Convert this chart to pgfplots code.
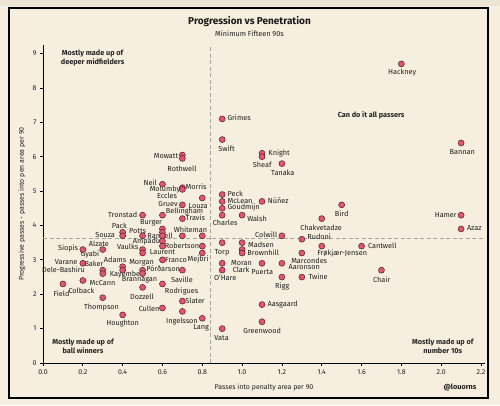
\documentclass[border=0pt]{standalone}
\usepackage{fontspec}
\setmainfont{Fira Sans}
\usepackage{pgfplots}
\pgfplotsset{compat=1.18}
\definecolor{bg}{RGB}{246,238,222}
\definecolor{dotfill}{RGB}{230,82,112}
\definecolor{dotedge}{RGB}{70,35,40}
\definecolor{lbl}{RGB}{32,32,32}
\definecolor{meanc}{RGB}{165,165,165}
\pgfplotstableread{
x y
1.8 8.7
2.1 6.4
2.1 4.3
2.1 3.9
1.5 4.6
1.4 4.2
1.3 3.6
1.4 3.4
1.6 3.4
1.7 2.7
1.3 3.2
1.2 2.9
1.3 2.5
1.2 2.5
1.1 2.9
0.9 2.9
0.9 2.7
1.2 3.7
0.9 3.5
1.0 3.5
1.0 3.3
1.0 3.2
1.1 1.7
1.1 1.2
0.9 1.0
0.8 1.3
0.7 1.5
0.7 1.8
0.6 1.6
0.6 2.3
0.7 2.7
0.6 3.0
0.8 3.2
0.8 3.4
0.7 3.7
0.8 3.7
0.9 7.1
0.9 6.5
1.1 6.1
1.1 6.0
1.2 5.8
0.7 6.05
0.7 5.95
0.6 5.2
0.7 5.1
0.7 5.05
0.8 4.8
0.7 4.6
0.6 4.3
0.7 4.2
0.9 4.9
0.9 4.7
0.9 4.5
0.9 4.3
1.1 4.7
1.0 4.3
0.5 4.3
0.6 3.9
0.6 3.8
0.6 3.7
0.6 3.55
0.6 3.4
0.4 3.8
0.4 3.7
0.5 3.7
0.5 3.3
0.5 3.2
0.3 3.3
0.2 3.3
0.2 2.9
0.3 2.7
0.3 2.6
0.4 2.8
0.4 2.7
0.5 2.7
0.5 2.6
0.5 2.2
0.2 2.4
0.1 2.3
0.3 1.9
0.4 1.4
}\players
\begin{document}
\begin{tikzpicture}[
  lab/.style={font=\fontsize{7.3}{8}\selectfont, text=lbl, inner sep=0pt, anchor=center},
  quad/.style={font=\bfseries\fontsize{7.3}{9}\selectfont, text=black!85, inner sep=0pt, align=center, anchor=center}]
\useasboundingbox (0pt,0pt) rectangle (500pt,-405pt);
\fill[bg] (0pt,0pt) rectangle (500pt,-405pt);
\fill[black!4!bg] (0pt,0pt) rectangle (500pt,-6pt);
\draw[line width=2pt, black] (8.5pt,-7.5pt) rectangle (488pt,-397.5pt);
\begin{axis}[
  at={(43pt,-363pt)}, anchor=south west,
  scale only axis, width=442pt, height=318pt,
  xmin=0, xmax=2.22, ymin=0, ymax=9.25,
  axis x line*=bottom, axis y line*=left,
  axis line style={line width=1pt, black},
  tick align=outside, major tick length=3pt,
  tick style={black, line width=0.8pt},
  xtick={0,0.2,0.4,0.6,0.8,1.0,1.2,1.4,1.6,1.8,2.0,2.2},
  ytick={0,1,2,3,4,5,6,7,8,9},
  xticklabel style={/pgf/number format/fixed, /pgf/number format/fixed zerofill, /pgf/number format/precision=1},
  /pgf/number format/assume math mode=true,
  ticklabel style={font=\fontsize{7}{8}\selectfont, text=lbl},
  clip=false,
]
\addplot[meanc, line width=0.7pt, dash pattern=on 4pt off 2.5pt] coordinates {(0.84,0) (0.84,9.25)};
\addplot[meanc, line width=0.7pt, dash pattern=on 4pt off 2.5pt] coordinates {(0,3.64) (2.22,3.64)};
\addplot[only marks, mark=*, mark size=3pt, mark options={fill=dotfill, draw=dotedge, line width=0.5pt}] table[x=x,y=y] {\players};
% player labels
\node[lab] at (axis cs:1.804,8.45) {Hackney};
\node[lab] at (axis cs:2.106,6.125) {Bannan};
\node[lab] at (axis cs:2.023,4.294) {Hamer};
\node[lab] at (axis cs:2.166,3.916) {Azaz};
\node[lab] at (axis cs:1.500,4.331) {Bird};
\node[lab] at (axis cs:1.397,3.933) {Chakvetadze};
\node[lab] at (axis cs:1.387,3.672) {Rudoni};
\node[lab] at (axis cs:1.503,3.189) {Frøkjær-Jensen};
\node[lab] at (axis cs:1.704,3.41) {Cantwell};
\node[lab] at (axis cs:1.701,2.433) {Chair};
\node[lab] at (axis cs:1.337,2.974) {Marcondes};
\node[lab] at (axis cs:1.312,2.782) {Aaronson};
\node[lab] at (axis cs:1.382,2.509) {Twine};
\node[lab] at (axis cs:1.201,2.238) {Rigg};
\node[lab] at (axis cs:1.101,2.637) {Puerta};
\node[lab] at (axis cs:0.997,2.916) {Moran};
\node[lab] at (axis cs:0.995,2.703) {Clark};
\node[lab] at (axis cs:0.915,2.491) {O'Hare};
\node[lab] at (axis cs:1.121,3.721) {Colwill};
\node[lab] at (axis cs:0.899,3.206) {Torp};
\node[lab] at (axis cs:1.095,3.430) {Madsen};
\node[lab] at (axis cs:1.106,3.218) {Brownhill};
\node[lab] at (axis cs:1.204,1.706) {Aasgaard};
\node[lab] at (axis cs:1.101,0.930) {Greenwood};
\node[lab] at (axis cs:0.897,0.718) {Vata};
\node[lab] at (axis cs:0.794,1.026) {Lang};
\node[lab] at (axis cs:0.698,1.201) {Ingelsson};
\node[lab] at (axis cs:0.764,1.802) {Slater};
\node[lab] at (axis cs:0.533,1.584) {Cullen};
\node[lab] at (axis cs:0.696,2.073) {Rodrigues};
\node[lab] at (axis cs:0.698,2.433) {Saville};
\node[lab] at (axis cs:0.603,2.733) {Pórðarson};
\node[lab] at (axis cs:0.668,2.994) {Franco};
\node[lab] at (axis cs:0.779,3.009) {Mejbri};
\node[lab] at (axis cs:0.698,3.421) {Robertson};
\node[lab] at (axis cs:0.600,3.235) {Laurent};
\node[lab] at (axis cs:0.741,3.887) {Whiteman};
\node[lab] at (axis cs:0.588,3.70) {Randell};
\node[lab] at (axis cs:0.520,3.547) {Ampadu};
\node[lab] at (axis cs:0.425,3.381) {Vaulks};
\node[lab] at (axis cs:0.475,3.852) {Potts};
\node[lab] at (axis cs:0.312,3.721) {Souza};
\node[lab] at (axis cs:0.384,3.983) {Pack};
\node[lab] at (axis cs:0.40,4.32) {Tronstad};
\node[lab] at (axis cs:0.543,4.07) {Burger};
\node[lab] at (axis cs:0.281,3.48) {Alzate};
\node[lab] at (axis cs:0.126,3.334) {Siopis};
\node[lab] at (axis cs:0.236,3.16) {Gyabi};
\node[lab] at (axis cs:0.116,2.945) {Varane};
\node[lab] at (axis cs:0.256,2.898) {Baker};
\node[lab] at (axis cs:0.362,2.994) {Adams};
\node[lab] at (axis cs:0.495,2.916) {Morgan};
\node[lab] at (axis cs:0.103,2.703) {Dele-Bashiru};
\node[lab] at (axis cs:0.412,2.567) {Kayembe};
\node[lab] at (axis cs:0.485,2.433) {Brannagan};
\node[lab] at (axis cs:0.299,2.317) {McCann};
\node[lab] at (axis cs:0.193,2.102) {Colback};
\node[lab] at (axis cs:0.093,2.006) {Field};
\node[lab] at (axis cs:0.294,1.619) {Thompson};
\node[lab] at (axis cs:0.40,1.134) {Houghton};
\node[lab] at (axis cs:0.497,1.927) {Dozzell};
\node[lab] at (axis cs:0.538,5.233) {Neil};
\node[lab] at (axis cs:0.613,5.049) {Molumby};
\node[lab] at (axis cs:0.769,5.116) {Morris};
\node[lab] at (axis cs:0.623,4.855) {Eccles};
\node[lab] at (axis cs:0.628,4.622) {Gruev};
\node[lab] at (axis cs:0.779,4.564) {Louza};
\node[lab] at (axis cs:0.711,4.398) {Bellingham};
\node[lab] at (axis cs:0.766,4.215) {Travis};
\node[lab] at (axis cs:0.618,6.017) {Mowatt};
\node[lab] at (axis cs:0.698,5.640) {Rothwell};
\node[lab] at (axis cs:0.922,6.241) {Swift};
\node[lab] at (axis cs:0.985,7.131) {Grimes};
\node[lab] at (axis cs:1.186,6.096) {Knight};
\node[lab] at (axis cs:1.101,5.756) {Sheaf};
\node[lab] at (axis cs:1.204,5.544) {Tanaka};
\node[lab] at (axis cs:0.965,4.933) {Peck};
\node[lab] at (axis cs:0.990,4.718) {McLean};
\node[lab] at (axis cs:1.008,4.526) {Goudmijn};
\node[lab] at (axis cs:0.915,4.09) {Charles};
\node[lab] at (axis cs:1.181,4.718) {Núñez};
\node[lab] at (axis cs:1.075,4.186) {Walsh};
% quadrant notes
\node[quad] at (axis cs:0.249,8.86) {Mostly made up of\\deeper midfielders};
\node[quad] at (axis cs:1.648,7.19) {Can do it all passers};
\node[quad] at (axis cs:0.201,0.50) {Mostly made up of\\ball winners};
\node[quad] at (axis cs:2.008,0.50) {Mostly made up of\\number 10s};
\end{axis}
\node[font=\bfseries\fontsize{10}{12}\selectfont, text=black!90] at (249.5pt,-21.7pt) {Progression vs Penetration};
\node[font=\fontsize{7.3}{9}\selectfont, text=lbl] at (249.5pt,-33.7pt) {Minimum Fifteen 90s};
\node[font=\fontsize{7}{8}\selectfont, text=lbl] at (264pt,-387.3pt) {Passes into penalty area per 90};
\node[font=\fontsize{7}{8}\selectfont, text=lbl, rotate=90] at (22pt,-204pt) {Progressive passes - passes into pen area per 90};
\node[font=\bfseries\fontsize{7.3}{8}\selectfont, text=lbl] at (460pt,-387.3pt) {@louorns};
\end{tikzpicture}
\end{document}
